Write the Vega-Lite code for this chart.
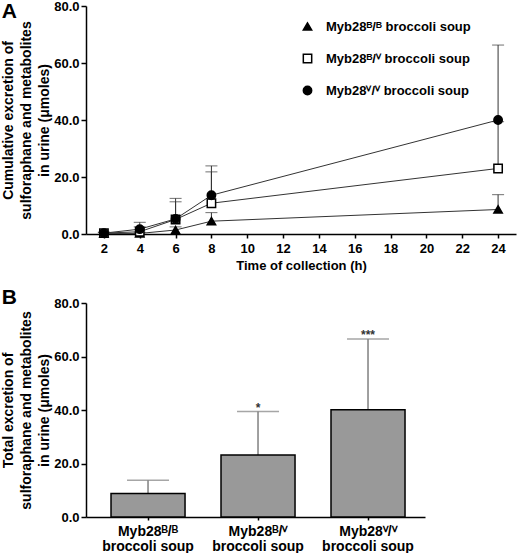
{
  "$schema": "https://vega.github.io/schema/vega-lite/v6.json",
  "padding": {"left": 1, "top": 0, "right": 2, "bottom": 0},
  "spacing": 15,
  "config": {
    "font": "Liberation Sans",
    "view": {"stroke": null},
    "axis": {
      "labelFont": "Liberation Sans", "labelFontWeight": "bold", "labelFontSize": 13, "labelColor": "#000",
      "titleFont": "Liberation Sans", "titleFontWeight": "bold", "titleFontSize": 14, "titleColor": "#000",
      "domainColor": "#000", "domainWidth": 1.5, "tickColor": "#000", "tickWidth": 1.5, "tickSize": 5, "grid": false
    },
    "title": {"font": "Liberation Sans", "fontSize": 21, "fontWeight": "bold", "color": "#000", "anchor": "start", "frame": "bounds"}
  },
  "vconcat": [
    {
      "width": 430,
      "height": 228,
      "title": {"text": "A", "offset": -22, "dx": 0},
      "data": {"values": [
        {"group": "Myb28ᴮ/ᴮ broccoli soup", "time": 2, "mean": 0.2, "upper": 0.4},
        {"group": "Myb28ᴮ/ᴮ broccoli soup", "time": 4, "mean": 0.2, "upper": 0.6},
        {"group": "Myb28ᴮ/ᴮ broccoli soup", "time": 6, "mean": 1.4, "upper": 2.5},
        {"group": "Myb28ᴮ/ᴮ broccoli soup", "time": 8, "mean": 4.5, "upper": 7.5},
        {"group": "Myb28ᴮ/ᴮ broccoli soup", "time": 24, "mean": 8.6, "upper": 13.8},
        {"group": "Myb28ᴮ/ⱽ broccoli soup", "time": 2, "mean": 0.3, "upper": 0.6},
        {"group": "Myb28ᴮ/ⱽ broccoli soup", "time": 4, "mean": 0.8, "upper": 2.5},
        {"group": "Myb28ᴮ/ⱽ broccoli soup", "time": 6, "mean": 5.1, "upper": 11.3},
        {"group": "Myb28ᴮ/ⱽ broccoli soup", "time": 8, "mean": 10.8, "upper": 21.8},
        {"group": "Myb28ᴮ/ⱽ broccoli soup", "time": 24, "mean": 23.0, "upper": 39.4},
        {"group": "Myb28ⱽ/ⱽ  broccoli soup", "time": 2, "mean": 0.3, "upper": 0.6},
        {"group": "Myb28ⱽ/ⱽ  broccoli soup", "time": 4, "mean": 1.7, "upper": 4.1},
        {"group": "Myb28ⱽ/ⱽ  broccoli soup", "time": 6, "mean": 5.3, "upper": 12.5},
        {"group": "Myb28ⱽ/ⱽ  broccoli soup", "time": 8, "mean": 13.6, "upper": 23.9},
        {"group": "Myb28ⱽ/ⱽ  broccoli soup", "time": 24, "mean": 40.0, "upper": 66.3}
      ]},
      "encoding": {
        "x": {"field": "time", "type": "quantitative",
              "scale": {"domain": [1, 25], "nice": false},
              "axis": {"title": "Time of collection (h)", "titleFontSize": 13, "values": [2,4,6,8,10,12,14,16,18,20,22,24], "tickSize": 4, "labelPadding": 4, "titlePadding": 4}}
      },
      "layer": [
        {"mark": {"type": "rule", "color": "#333", "strokeWidth": 1},
         "encoding": {"y": {"field": "mean", "type": "quantitative"}, "y2": {"field": "upper"}}},
        {"mark": {"type": "tick", "orient": "horizontal", "size": 12, "thickness": 1, "color": "#333"},
         "encoding": {"y": {"field": "upper", "type": "quantitative"}}},
        {"mark": {"type": "line", "color": "#333", "strokeWidth": 1},
         "encoding": {"y": {"field": "mean", "type": "quantitative"}, "detail": {"field": "group"}}},
        {"mark": {"type": "point", "size": 70, "strokeWidth": 1.5, "stroke": "#000", "opacity": 1, "fillOpacity": 1},
         "encoding": {
           "y": {"field": "mean", "type": "quantitative",
                 "scale": {"domain": [0, 80], "nice": false},
                 "axis": {"values": [0, 20, 40, 60, 80], "format": ".1f", "title": ["Cumulative excretion of", "sulforaphane and metabolites", "in urine (μmoles)"], "titleLineHeight": 18, "titlePadding": 2, "labelPadding": 2}},
           "shape": {"field": "group", "type": "nominal",
                     "scale": {"domain": ["Myb28ᴮ/ᴮ broccoli soup", "Myb28ᴮ/ⱽ broccoli soup", "Myb28ⱽ/ⱽ  broccoli soup"], "range": ["triangle-up", "square", "circle"]},
                     "legend": {"title": null, "orient": "none", "legendX": 215, "legendY": 14, "labelFontSize": 13, "labelFontWeight": "bold", "labelColor": "#000", "labelFont": "Liberation Sans", "symbolSize": 70, "symbolStrokeWidth": 1.5, "rowPadding": 17, "labelOffset": 12,
                                "encode": {"symbols": {"update": {"stroke": {"value": "#000"}, "strokeWidth": {"value": 1.5}}}}}},
           "fill": {"field": "group", "type": "nominal",
                    "scale": {"domain": ["Myb28ᴮ/ᴮ broccoli soup", "Myb28ᴮ/ⱽ broccoli soup", "Myb28ⱽ/ⱽ  broccoli soup"], "range": ["#000", "#fff", "#000"]}}
         }}
      ]
    },
    {
      "width": 339,
      "height": 214,
      "title": {"text": "B", "offset": -11, "dx": 0},
      "data": {"values": [
        {"cat": "Myb28ᴮ/ᴮ|broccoli soup", "mean": 8.75, "upper": 13.7, "sig": ""},
        {"cat": "Myb28ᴮ/ⱽ|broccoli soup", "mean": 23.2, "upper": 39.4, "sig": "*"},
        {"cat": "Myb28ⱽ/ⱽ|broccoli soup", "mean": 40.1, "upper": 66.5, "sig": "***"}
      ]},
      "encoding": {
        "x": {"field": "cat", "type": "nominal", "sort": null,
              "scale": {"paddingInner": 0.327, "paddingOuter": 0.2045, "align": 0.556},
              "axis": {"title": null, "labelAngle": 0, "labelExpr": "split(datum.label, '|')", "labelFontSize": 14, "labelLineHeight": 15, "tickSize": 3, "labelPadding": 4}}
      },
      "layer": [
        {"mark": {"type": "rule", "color": "#808080", "strokeWidth": 1.5},
         "encoding": {"y": {"field": "mean", "type": "quantitative"}, "y2": {"field": "upper"}}},
        {"mark": {"type": "tick", "orient": "horizontal", "size": 42, "thickness": 1.5, "color": "#808080"},
         "encoding": {"y": {"field": "upper", "type": "quantitative"}}},
        {"mark": {"type": "bar", "fill": "#999999", "stroke": "#000", "strokeWidth": 1.5},
         "encoding": {"y": {"field": "mean", "type": "quantitative",
                            "scale": {"domain": [0, 80], "nice": false},
                            "axis": {"values": [0, 20, 40, 60, 80], "format": ".1f", "title": ["Total excretion of", "sulforaphane and metabolites", "in urine (μmoles)"], "titleLineHeight": 18, "titlePadding": 2, "labelPadding": 2}}}},
        {"mark": {"type": "text", "baseline": "bottom", "dy": 3, "fontSize": 12, "fontWeight": "bold", "color": "#333"},
         "encoding": {"y": {"field": "upper", "type": "quantitative"}, "text": {"field": "sig"}}}
      ]
    }
  ]
}
